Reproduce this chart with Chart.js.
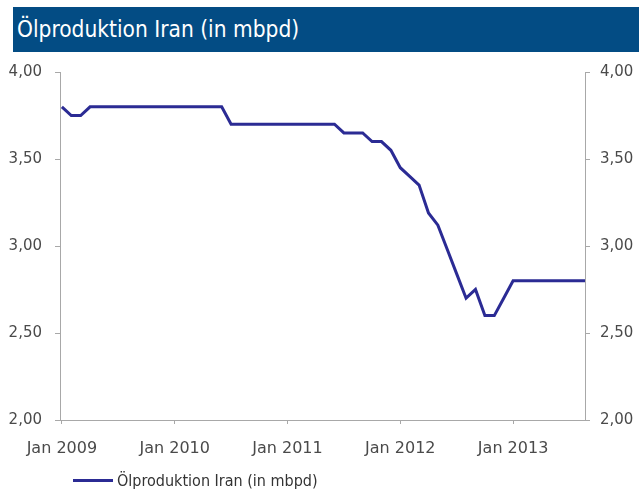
<!DOCTYPE html>
<html>
<head>
<meta charset="utf-8">
<script src="https://cdn.jsdelivr.net/npm/chart.js@4/dist/chart.umd.min.js"></script>
<style>
  html, body { margin: 0; padding: 0; background: #fff; }
  #wrap { position: relative; width: 639px; height: 494px; overflow: hidden; }
  #titleBar {
    position: absolute; left: 13px; top: 7px; width: 626px; height: 45px;
    background: #034c84; color: #fff;
    font-family: "DejaVu Sans Condensed", "DejaVu Sans", sans-serif;
    font-size: 22.5px; line-height: 45px; padding-left: 4px; box-sizing: border-box;
  }
  #legend {
    position: absolute; left: 73px; top: 471px; height: 20px;
    font-family: "DejaVu Sans Condensed", "DejaVu Sans", sans-serif;
    font-size: 16px; color: #333; line-height: 20px; white-space: nowrap;
  }
  #legend .swatch {
    display: inline-block; width: 40px; height: 3px; background: #2b2b94;
    vertical-align: middle; margin-right: 4px; position: relative; top: -1px;
  }
  canvas { position: absolute; left: 0; top: 0; }
</style>
</head>
<body>
<div id="wrap">
  <canvas id="oilChart" width="639" height="494"></canvas>
  <div id="titleBar">Ölproduktion Iran (in mbpd)</div>
  <div id="legend"><span class="swatch"></span>Ölproduktion Iran (in mbpd)</div>
</div>
<script>
// Monatswerte Jan 2009 - Sep 2013 (mbpd)
const months = [];
for (let i = 0; i < 57; i++) months.push(i);

const production = [
  3.80, 3.75, 3.75, 3.80, 3.80, 3.80, 3.80, 3.80, 3.80, 3.80, 3.80, 3.80,
  3.80, 3.80, 3.80, 3.80, 3.80, 3.80, 3.70, 3.70, 3.70, 3.70, 3.70, 3.70,
  3.70, 3.70, 3.70, 3.70, 3.70, 3.70, 3.65, 3.65, 3.65, 3.60, 3.60, 3.55,
  3.45, 3.40, 3.35, 3.19, 3.12, 2.98, 2.84, 2.70, 2.75, 2.60, 2.60, 2.70,
  2.80, 2.80, 2.80, 2.80, 2.80, 2.80, 2.80, 2.80, 2.80
];

const tickMonths = [0, 12, 24, 36, 48];
const tickLabels = ["Jan 2009", "Jan 2010", "Jan 2011", "Jan 2012", "Jan 2013"];

const axisColor = "#a8a8a8";
const tickFont = { family: "DejaVu Sans", size: 15 };
const fmt = (v) => v.toFixed(2).replace(".", ",");

const ctx = document.querySelector("#oilChart");
const oilChart = new Chart(ctx, {
  type: "line",
  data: {
    datasets: [
      {
        label: "Ölproduktion Iran (in mbpd)",
        data: months.map((m, i) => ({ x: m, y: production[i] })),
        borderColor: "#2b2b94",
        borderWidth: 3,
        pointRadius: 0,
        tension: 0,
        fill: false,
        clip: 0,
      },
    ],
  },
  options: {
    responsive: false,
    animation: false,
    layout: { padding: { top: 72, bottom: 0, left: 0, right: 0 } },
    plugins: {
      legend: { display: false },
      title: { display: false },
      tooltip: { enabled: false },
    },
    scales: {
      x: {
        type: "linear",
        min: -0.2,
        max: 55.65,
        afterBuildTicks: (s) => { s.ticks = tickMonths.map((v) => ({ value: v })); },
        afterFit: (s) => { s.height = 74; },
        border: { color: axisColor, width: 1 },
        grid: { drawOnChartArea: false, color: axisColor, tickLength: 4 },
        ticks: {
          autoSkip: false,
          maxRotation: 0,
          padding: 15,
          color: "#4a4a4a",
          font: { family: "DejaVu Sans", size: 16 },
          callback: (v) => tickLabels[tickMonths.indexOf(v)],
        },
      },
      y: {
        position: "left",
        min: 2,
        max: 4,
        afterFit: (s) => { s.width = 60; },
        border: { color: axisColor, width: 1 },
        grid: { drawOnChartArea: false, color: axisColor, tickLength: 5 },
        ticks: { stepSize: 0.5, padding: 13, color: "#4a4a4a", font: tickFont, callback: fmt },
      },
      y2: {
        position: "right",
        min: 2,
        max: 4,
        afterFit: (s) => { s.width = 54; },
        border: { color: axisColor, width: 1 },
        grid: { drawOnChartArea: false, color: axisColor, tickLength: 5 },
        ticks: { stepSize: 0.5, padding: 10, color: "#4a4a4a", font: tickFont, callback: fmt },
      },
    },
  },
});
</script>
</body>
</html>
